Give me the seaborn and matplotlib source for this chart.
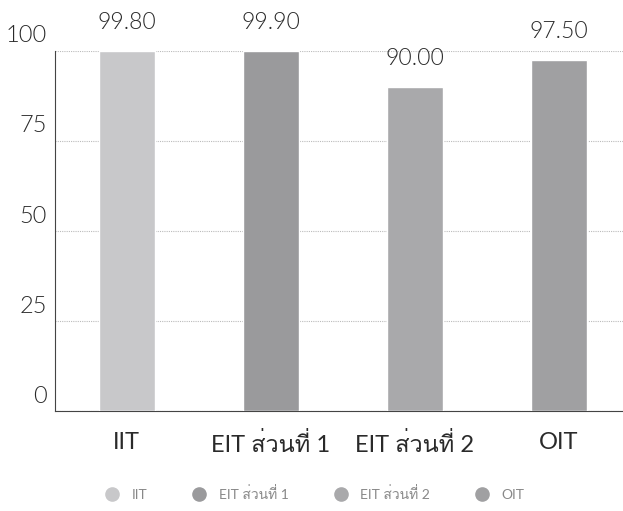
import matplotlib
matplotlib.use('Agg')
import matplotlib.pyplot as plt
import matplotlib.transforms as mtrans
from matplotlib import font_manager
from matplotlib.ft2font import FT2Font
from matplotlib.lines import Line2D
import seaborn as sns
import pandas as pd

categories = ['IIT', 'EIT ส่วนที่ 1', 'EIT ส่วนที่ 2', 'OIT']
scores = [99.80, 99.90, 90.00, 97.50]
bar_colors = ['#c8c8ca', '#9a9a9c', '#a9a9ab', '#a0a0a2']
y_ticks = [0, 25, 50, 75, 100]

# look for any installed font that has Thai glyphs
thai_font = None
for f in font_manager.fontManager.ttflist:
    try:
        if 0x0E2A in FT2Font(f.fname).get_charmap():
            thai_font = f.name
            if f.weight in (400, 'normal', 'regular'):
                break
    except Exception:
        pass

sns.set_style('white')
fams = ['Lato', 'DejaVu Sans']
if thai_font:
    fams.insert(1, thai_font)
plt.rcParams['font.family'] = fams
plt.rcParams['font.weight'] = 400

df = pd.DataFrame({'cat': categories, 'score': scores})

fig = plt.figure(figsize=(6.23, 5.11), dpi=100)
ax = fig.add_axes([0.088, 0.196, 0.92, 0.705])

sns.barplot(data=df, x='cat', y='score', hue='cat', palette=bar_colors,
            width=0.39, legend=False, ax=ax, zorder=3)

# numbers only -> lighter weight like the reference
for i, v in enumerate(scores):
    ax.text(i, v + 5, f'{v:.2f}', ha='center', va='bottom', fontsize=16.5,
            color='#2a2a2a', fontweight=300)

ax.set_ylim(0, 100)
ax.set_xlim(-0.5, 3.48)
ax.set_yticks(y_ticks)
ax.grid(axis='y', linestyle=(0, (1, 1)), color='#bbbbbb', linewidth=0.8, zorder=0)
ax.set_xlabel('')
ax.set_ylabel('')
ax.tick_params(axis='both', length=0, labelcolor='#2a2a2a')
ax.tick_params(axis='x', pad=15, labelsize=17)
ax.tick_params(axis='y', pad=6, labelsize=17)
shift = mtrans.ScaledTranslation(0, 3 / 72, fig.dpi_scale_trans)
for lab in ax.get_yticklabels():
    lab.set_verticalalignment('bottom')
    lab.set_fontweight(300)
    lab.set_transform(lab.get_transform() + shift)

for s in ['top', 'right']:
    ax.spines[s].set_visible(False)
ax.spines['left'].set_color('#444444')
ax.spines['bottom'].set_color('#444444')

handles = [Line2D([], [], marker='o', linestyle='', markersize=9.5,
                  markerfacecolor=c, markeredgecolor=c) for c in bar_colors]
fig.legend(handles, categories, loc='lower center', bbox_to_anchor=(0.5, -0.005),
           ncol=4, frameon=False, fontsize=10, labelcolor='#888888',
           handletextpad=0.4, columnspacing=2.75)

fig.savefig('out.png', dpi=100)
